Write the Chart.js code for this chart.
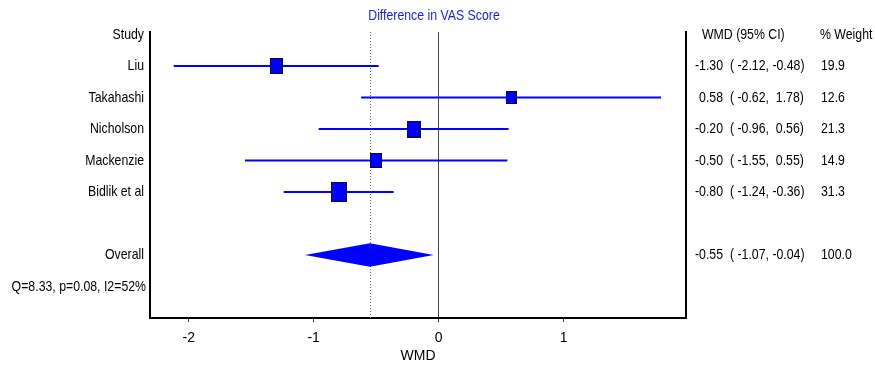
<!DOCTYPE html>
<html>
<head>
<meta charset="utf-8">
<script src="https://cdn.jsdelivr.net/npm/chart.js@4.4.1/dist/chart.umd.min.js"></script>
<style>
  html, body { margin: 0; padding: 0; background: #fff; }
</style>
</head>
<body>
<canvas id="forest" width="875" height="365"></canvas>
<script>
// study data
const studies = ['Liu', 'Takahashi', 'Nicholson', 'Mackenzie', 'Bidlik et al'];
const wmd = [-1.30, 0.58, -0.20, -0.50, -0.80];
const ciLow = [-2.12, -0.62, -0.96, -1.55, -1.24];
const ciHigh = [-0.48, 1.78, 0.56, 0.55, -0.36];
const weights = [19.9, 12.6, 21.3, 14.9, 31.3];

// pooled estimate
const overallWmd = -0.55;
const overallLow = -1.07;
const overallHigh = -0.04;
const overallWeight = 100.0;
const heterogeneity = 'Q=8.33, p=0.08, I2=52%';

const xTicks = [-2, -1, 0, 1];

const FONT = '"Liberation Sans", Arial, sans-serif';
const NARROW = 0.82; // no narrow face installed, squeeze the regular one
const BLUE = '#0000ff';
const OVERALL_ROW = 7;
const HET_ROW = 8;

// square-ish marker, area follows the weight
function boxImage(w) {
	const side = 2.55 * Math.sqrt(w);
	const c = document.createElement('canvas');
	c.width = Math.round(side) + 2;
	c.height = Math.round(side * 1.27) + 2;
	const g = c.getContext('2d');
	g.fillStyle = BLUE;
	g.fillRect(1, 1, c.width - 2, c.height - 2);
	g.strokeStyle = '#0a0a3a';
	g.lineWidth = 1;
	g.strokeRect(0.5, 0.5, c.width - 1, c.height - 1);
	return c;
}

const ciSets = studies.map((s, i) => ({
	label: s,
	data: [{x: ciLow[i], y: i + 1}, {x: ciHigh[i], y: i + 1}],
	showLine: true,
	borderColor: BLUE,
	borderWidth: 2,
	pointRadius: 0,
	order: 2
}));

const boxSet = {
	label: 'wmd',
	data: studies.map((s, i) => ({x: wmd[i], y: i + 1})),
	pointStyle: weights.map(boxImage),
	showLine: false,
	order: 1
};

// diamond for the pooled estimate
const dh = 0.37;
const diamondSet = {
	label: 'overall',
	data: [
		{x: overallLow, y: OVERALL_ROW},
		{x: overallWmd, y: OVERALL_ROW - dh},
		{x: overallHigh, y: OVERALL_ROW},
		{x: overallWmd, y: OVERALL_ROW + dh},
		{x: overallLow, y: OVERALL_ROW}
	],
	showLine: true,
	fill: 'shape',
	backgroundColor: BLUE,
	borderColor: BLUE,
	borderWidth: 0,
	pointRadius: 0,
	order: 1
};

function fmt(v) {
	return v.toFixed(2).padStart(5, ' ');
}

function text(ctx, str, x, y, align) {
	ctx.save();
	ctx.translate(x, y);
	ctx.scale(NARROW, 1);
	ctx.textAlign = align;
	ctx.fillText(str, 0, 0);
	ctx.restore();
}

const tableText = {
	id: 'tableText',
	beforeDatasetsDraw(chart) {
		const {ctx, chartArea, scales: {x}} = chart;
		const px = x.getPixelForValue(overallWmd);
		ctx.save();
		ctx.strokeStyle = '#666';
		ctx.lineWidth = 1;
		ctx.setLineDash([1, 2]);
		ctx.beginPath();
		ctx.moveTo(Math.round(px) + 0.5, chartArea.top);
		ctx.lineTo(Math.round(px) + 0.5, chartArea.bottom);
		ctx.stroke();
		ctx.restore();
	},
	afterDraw(chart) {
		const {ctx, scales: {y}} = chart;
		ctx.save();
		ctx.font = '15px ' + FONT;
		ctx.textBaseline = 'middle';

		// title
		ctx.fillStyle = '#1a1aff';
		text(ctx, 'Difference in VAS Score', 434, 16, 'center');

		ctx.fillStyle = '#000';
		text(ctx, 'Study', 144, y.getPixelForValue(0), 'right');
		studies.forEach((s, i) => text(ctx, s, 144, y.getPixelForValue(i + 1), 'right'));
		text(ctx, 'Overall', 144, y.getPixelForValue(OVERALL_ROW), 'right');
		text(ctx, heterogeneity, 146, y.getPixelForValue(HET_ROW), 'right');

		text(ctx, 'WMD (95% CI)', 702, y.getPixelForValue(0), 'left');
		text(ctx, '% Weight', 820, y.getPixelForValue(0), 'left');
		const rows = studies.map((s, i) => [wmd[i], ciLow[i], ciHigh[i], weights[i], i + 1]);
		rows.push([overallWmd, overallLow, overallHigh, overallWeight, OVERALL_ROW]);
		rows.forEach(r => {
			const py = y.getPixelForValue(r[4]);
			text(ctx, r[0].toFixed(2), 723, py, 'right');
			text(ctx, '( ' + fmt(r[1]) + ', ' + fmt(r[2]) + ')', 730, py, 'left');
			text(ctx, r[3].toFixed(1), 821, py, 'left');
		});
		ctx.restore();
	}
};

const forest = new Chart(document.getElementById('forest'), {
	type: 'scatter',
	data: { datasets: [...ciSets, boxSet, diamondSet] },
	options: {
		responsive: false,
		animation: false,
		devicePixelRatio: 1,
		layout: { padding: { left: 150, right: 189, top: 32, bottom: 0 } },
		plugins: {
			legend: { display: false },
			tooltip: { enabled: false },
			title: { display: false }
		},
		scales: {
			x: {
				type: 'linear',
				min: -2.31,
				max: 1.98,
				afterBuildTicks: axis => { axis.ticks = xTicks.map(v => ({value: v})); },
				afterFit: axis => { axis.height = 47; },
				ticks: {
					color: '#000',
					padding: 8,
					font: { family: FONT, size: 14 }
				},
				grid: {
					color: c => (c.tick && c.tick.value === 0) ? '#444' : 'rgba(0,0,0,0)',
					tickColor: '#333',
					tickLength: 4,
					lineWidth: 1
				},
				border: { color: '#000', width: 2 },
				title: {
					display: true,
					text: 'WMD',
					color: '#000',
					padding: { top: 0, bottom: 0 },
					font: { family: FONT, size: 14 }
				}
			},
			y: {
				type: 'linear',
				reverse: true,
				min: -0.08,
				max: 9.0,
				ticks: { display: false },
				grid: { display: false, drawTicks: false },
				border: { color: '#000', width: 2 }
			},
			y2: {
				type: 'linear',
				position: 'right',
				reverse: true,
				min: -0.08,
				max: 9.0,
				ticks: { display: false },
				grid: { display: false, drawTicks: false },
				border: { color: '#000', width: 2 }
			}
		}
	},
	plugins: [tableText]
});
</script>
</body>
</html>
